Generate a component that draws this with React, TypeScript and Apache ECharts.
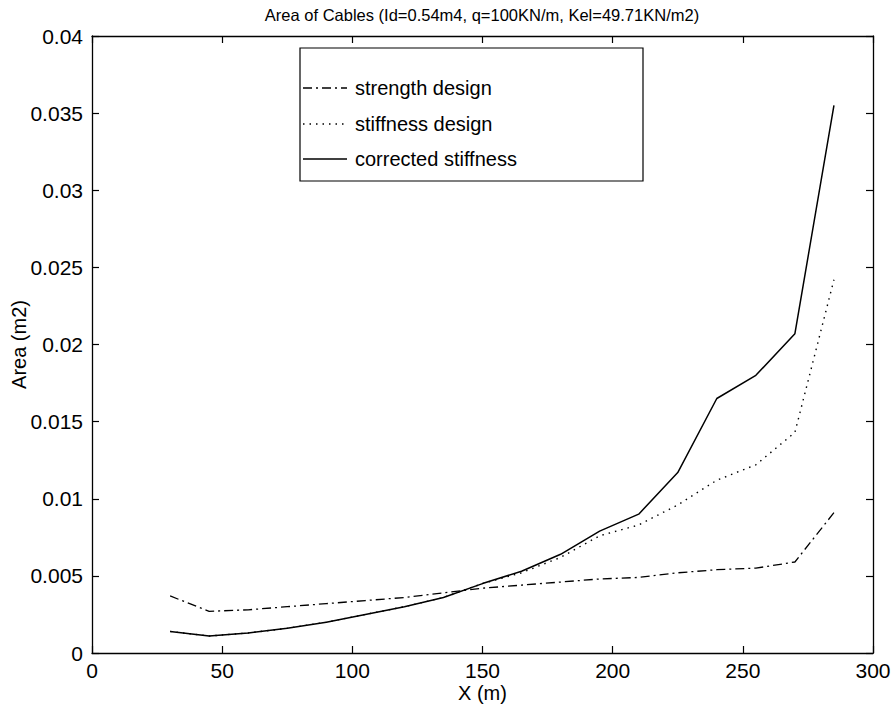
import React, { useEffect, useRef } from "react";
import * as echarts from "echarts";

const xValues = [30, 45, 60, 75, 90, 105, 120, 135, 150, 165, 180, 195, 210, 225, 240, 255, 270, 285];
const strengthDesign = [0.0037, 0.0027, 0.0028, 0.003, 0.0032, 0.0034, 0.0036, 0.0039, 0.0042, 0.0044, 0.0046, 0.0048, 0.0049, 0.0052, 0.0054, 0.0055, 0.0059, 0.0091];
const stiffnessDesign = [0.0014, 0.0011, 0.0013, 0.0016, 0.002, 0.0025, 0.003, 0.0036, 0.0045, 0.0052, 0.0062, 0.0076, 0.0083, 0.0096, 0.0112, 0.0122, 0.0143, 0.0242];
const correctedStiffness = [0.0014, 0.0011, 0.0013, 0.0016, 0.002, 0.0025, 0.003, 0.0036, 0.0045, 0.0053, 0.0064, 0.0079, 0.009, 0.0117, 0.0165, 0.018, 0.0207, 0.0355];
const legendNames = ["strength design", "stiffness design", "corrected stiffness"];
const titleText = "Area of Cables (Id=0.54m4, q=100KN/m, Kel=49.71KN/m2)";

const FONT = "'Liberation Sans', Arial, sans-serif";
const dashDot = [9, 4, 2, 4];
const dotted = [1.5, 5];

export default function App() {
  const ref = useRef<HTMLDivElement>(null);
  useEffect(() => {
    if (!ref.current) return;
    const chart = echarts.init(ref.current, null, { renderer: "svg" });
    const pairs = (ys: number[]) => xValues.map((x, i) => [x, ys[i]]);
    const axisLine = { show: true, onZero: false, lineStyle: { color: "#000", width: 1.3 } };
    const tick = { show: true, inside: true, length: 7, lineStyle: { color: "#000", width: 1.2 } };
    const lineX1 = 303, lineX2 = 347, textX = 355;
    const rows = [88, 124, 159];
    const styles = [dashDot, dotted, null];
    const graphic: any[] = [
      { type: "rect", shape: { x: 300, y: 48, width: 343, height: 133 }, style: { fill: "#fff", stroke: "#000", lineWidth: 1.2 }, z: 100 },
      {
        type: "text", x: 482, y: 15,
        style: { text: titleText, font: `16.5px ${FONT}`, fill: "#000", align: "center", verticalAlign: "middle" },
        z: 101,
      },
    ];
    rows.forEach((y, i) => {
      graphic.push({
        type: "line",
        shape: { x1: lineX1, y1: y, x2: lineX2, y2: y },
        style: { stroke: "#000", lineWidth: 1.3, lineDash: styles[i] || undefined },
        z: 101,
      });
      graphic.push({
        type: "text",
        x: textX,
        y: y,
        style: { text: legendNames[i], font: `20px ${FONT}`, fill: "#000", verticalAlign: "middle" },
        z: 101,
      });
    });
    chart.setOption({
      animation: false,
      backgroundColor: "#fff",
      grid: { left: 92, right: 22, top: 36, bottom: 53, containLabel: false, outerBoundsMode: "none" },
      xAxis: [
        {
          type: "value", min: 0, max: 300, interval: 50, position: "bottom",
          name: "X (m)", nameLocation: "middle", nameGap: 30, nameMoveOverlap: false,
          nameTextStyle: { fontFamily: FONT, fontSize: 20, color: "#000" },
          axisLabel: { fontFamily: FONT, fontSize: 21, color: "#000", margin: 7 },
          axisLine, axisTick: tick,
          splitLine: { show: false },
        },
        {
          type: "value", min: 0, max: 300, interval: 50, position: "top",
          axisLabel: { show: false },
          axisLine, axisTick: tick,
          splitLine: { show: false },
        },
      ],
      yAxis: [
        {
          type: "value", min: 0, max: 0.04, interval: 0.005, position: "left",
          name: "Area (m2)", nameLocation: "middle", nameGap: 63, nameRotate: 90, nameMoveOverlap: false,
          nameTextStyle: { fontFamily: FONT, fontSize: 20, color: "#000" },
          axisLabel: { fontFamily: FONT, fontSize: 21, color: "#000", margin: 9 },
          axisLine, axisTick: tick,
          splitLine: { show: false },
        },
        {
          type: "value", min: 0, max: 0.04, interval: 0.005, position: "right",
          axisLabel: { show: false },
          axisLine, axisTick: tick,
          splitLine: { show: false },
        },
      ],
      series: [
        { name: legendNames[0], type: "line", data: pairs(strengthDesign), symbol: "none", lineStyle: { color: "#000", width: 1.3, type: dashDot } },
        { name: legendNames[1], type: "line", data: pairs(stiffnessDesign), symbol: "none", lineStyle: { color: "#000", width: 1.4, type: dotted } },
        { name: legendNames[2], type: "line", data: pairs(correctedStiffness), symbol: "none", lineStyle: { color: "#000", width: 1.5 } },
      ],
      graphic,
    });
    return () => chart.dispose();
  }, []);
  return <div ref={ref} style={{ width: 895, height: 706, position: "absolute", left: 0, top: 0 }} />;
}
